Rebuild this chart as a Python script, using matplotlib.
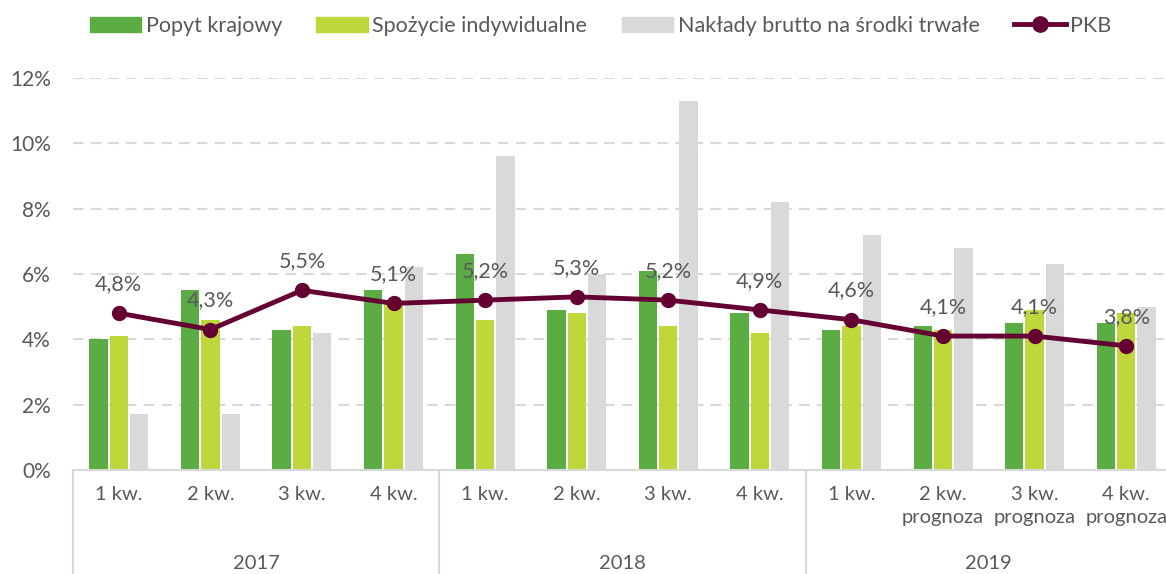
import matplotlib.pyplot as plt
import matplotlib.transforms as mtransforms
from matplotlib.lines import Line2D
from matplotlib.patches import Patch
import numpy as np

quarters = ["1 kw.", "2 kw.", "3 kw.", "4 kw.",
            "1 kw.", "2 kw.", "3 kw.", "4 kw.",
            "1 kw.", "2 kw.\nprognoza", "3 kw.\nprognoza", "4 kw.\nprognoza"]
years = ["2017", "2018", "2019"]

popyt = [4.0, 5.5, 4.3, 5.5, 6.6, 4.9, 6.1, 4.8, 4.3, 4.4, 4.5, 4.5]
spozycie = [4.1, 4.6, 4.4, 5.2, 4.6, 4.8, 4.4, 4.2, 4.4, 4.3, 4.9, 4.8]
naklady = [1.7, 1.7, 4.2, 6.2, 9.6, 6.0, 11.3, 8.2, 7.2, 6.8, 6.3, 5.0]
pkb = [4.8, 4.3, 5.5, 5.1, 5.2, 5.3, 5.2, 4.9, 4.6, 4.1, 4.1, 3.8]

c_green = "#5BAD43"
c_lime = "#BFD73B"
c_gray = "#D9D9D9"
c_pkb = "#650033"
c_text = "#595959"

plt.rcParams['font.family'] = ['Lato', 'DejaVu Sans']

fig = plt.figure(figsize=(11.66, 5.74), dpi=100)
W, H = 1166, 574
ax = fig.add_axes([73 / W, 1 - 470 / H, 1099 / W, 392 / H])

x = np.arange(len(quarters))
step = 0.222
bw = 0.2
ax.bar(x - step, popyt, bw, color=c_green, zorder=2)
ax.bar(x, spozycie, bw, color=c_lime, zorder=2)
ax.bar(x + step, naklady, bw, color=c_gray, zorder=2)
ax.plot(x, pkb, color=c_pkb, lw=3.5, marker="o", ms=10, zorder=3)

for xi, v in zip(x, pkb):
    ax.annotate(("%.1f%%" % v).replace(".", ","), (xi, v), xytext=(0, 21),
                textcoords="offset points", ha="center", va="center",
                fontsize=15.5, color=c_text, zorder=4)

ax.set_xlim(-0.5, len(quarters) - 0.5)
ax.set_ylim(0, 12)
ax.set_yticks(range(0, 13, 2))
ax.set_yticklabels(["%d%%" % t for t in range(0, 13, 2)], fontsize=15, color=c_text)
ax.tick_params(axis="y", length=0, pad=16)
ax.set_xticks([])
ax.yaxis.grid(True, color=c_gray, lw=1.5, linestyle=(0, (5, 3.5)), zorder=0)
for s in ["top", "right", "left"]:
    ax.spines[s].set_visible(False)
ax.spines["bottom"].set_color(c_gray)
ax.spines["bottom"].set_linewidth(1.5)

# category labels below the axis
trans = mtransforms.blended_transform_factory(ax.transData, ax.transAxes)
for xi, lab in zip(x, quarters):
    ax.text(xi, -0.042, lab, transform=trans, ha="center", va="top",
            fontsize=14.5, color=c_text, linespacing=1.4)
for i, yr in enumerate(years):
    ax.text(4 * i + 1.5, -0.238, yr, transform=trans, ha="center", va="center",
            fontsize=14.5, color=c_text)
for xs in [-0.5, 3.5, 7.5]:
    ax.add_line(Line2D([xs, xs], [0, -0.3], transform=trans, color=c_gray,
                       lw=1.5, clip_on=False))

handles = [Patch(color=c_green), Patch(color=c_lime), Patch(color=c_gray),
           Line2D([], [], color=c_pkb, lw=3.5, marker="o", ms=11)]
labels = ["Popyt krajowy", "Spożycie indywidualne",
          "Nakłady brutto na środki trwałe", "PKB"]
fig.legend(handles, labels, loc="center", bbox_to_anchor=(0.515, 1 - 26 / H),
           ncol=4, frameon=False, fontsize=15.5, labelcolor=c_text,
           handlelength=2.4, handleheight=0.75, handletextpad=0.2,
           columnspacing=1.6)

fig.savefig("out.png", dpi=100)
